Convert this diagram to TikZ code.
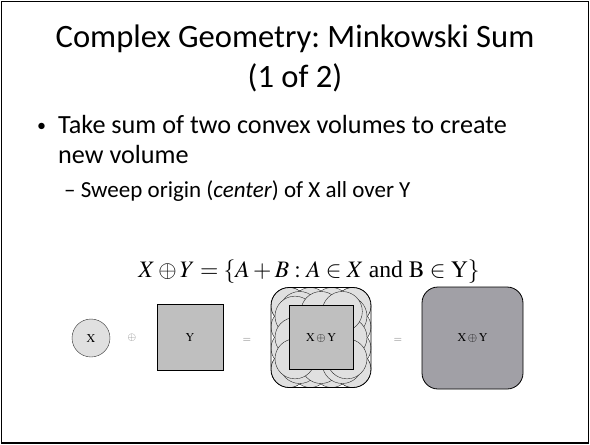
\documentclass[tikz,border=0pt]{standalone}
\usepackage{mathptmx}
\usepackage[no-math]{fontspec}
\setmainfont{Carlito}
\newfontfamily\timesfont{Liberation Serif}
\usetikzlibrary{calc}
\frenchspacing

\begin{document}
\begin{tikzpicture}[x=1pt,y=-1pt,
  slidetext/.style={anchor=base west,inner sep=0pt},
  shapelabel/.style={inner sep=0pt,font=\fontsize{12}{14}\selectfont},
  oplabel/.style={inner sep=0pt,text=black!55,font=\fontsize{11}{13}\selectfont},
  bubble/.style={fill=black!12,draw=black!85}]
  \useasboundingbox (0,0) rectangle (590,445);
  \draw[line width=1.6pt] (1.5,1.5) rectangle (588.5,443);
  % title and bullets
  \node[inner sep=0pt,anchor=base,font=\fontsize{32.6}{38}\selectfont] (title) at (295,47) {Complex Geometry: Minkowski Sum};
  \node[inner sep=0pt,anchor=base,font=\fontsize{32.6}{38}\selectfont] (part) at (295,87) {(1 of 2)};
  \node[slidetext,font=\fontsize{18}{29}\selectfont] (dot) at (37,131) {\textbullet};
  \node[slidetext,font=\fontsize{26.2}{29}\selectfont] (l1) at (58,133) {Take sum of two convex volumes to create};
  \node[slidetext,font=\fontsize{26.2}{29}\selectfont] (l2) at (58,163) {new volume};
  \node[slidetext,font=\fontsize{23}{25}\selectfont] (l3) at (64,197) {-- Sweep origin (\textit{center}) of X all over Y};
  % formula
  \node[inner sep=0pt,anchor=base,font=\fontsize{23.6}{28}\selectfont] (eq) at (309,277)
    {$X \oplus Y = \{A + B : A \in X \mbox{ \timesfont and } \mathrm{B} \in \mathrm{Y}\}$};
  % X
  \filldraw[fill=black!12,draw=black!80] (91,338) circle (19);
  \node[shapelabel] (X) at (91,338) {$\mathrm{X}$};
  \node[oplabel] (op1) at (132,338) {$\oplus$};
  % Y
  \filldraw[fill=black!25,draw=black,thick] (157,304) rectangle (223,370);
  \node[shapelabel] (Y) at (190,337) {$\mathrm{Y}$};
  \node[oplabel] (eq1) at (247,340) {$=$};
  % swept circles
  \coordinate (S) at (321,337.5);
  \begin{scope}
    \clip[rounded corners=18] ($(S)+(-50,-50)$) rectangle ($(S)+(50,50)$);
    \foreach \t in {0,...,3}
      {\draw[bubble] ($(S)+(-32+64*\t/3,-32)$) circle (18);
       \draw[bubble] ($(S)+(-32+64*\t/3,32)$) circle (18);
       \draw[bubble] ($(S)+(-32,-32+64*\t/3)$) circle (18);
       \draw[bubble] ($(S)+(32,-32+64*\t/3)$) circle (18);}
    \foreach \t in {0.5,1.5,2.5}
      {\draw[bubble] ($(S)+(-32+64*\t/3,-26)$) circle (20);
       \draw[bubble] ($(S)+(-32+64*\t/3,26)$) circle (20);
       \draw[bubble] ($(S)+(-26,-32+64*\t/3)$) circle (20);
       \draw[bubble] ($(S)+(26,-32+64*\t/3)$) circle (20);}
  \end{scope}
  \draw[thick,rounded corners=18] ($(S)+(-50,-50)$) rectangle ($(S)+(50,50)$);
  \filldraw[fill=black!25,draw=black,thick] ($(S)+(-32,-32)$) rectangle ($(S)+(32,32)$);
  \node[shapelabel] (XY1) at (S) {$\mathrm{X}\oplus\mathrm{Y}$};
  \node[oplabel] (eq2) at (398,340) {$=$};
  % result
  \filldraw[fill={rgb,255:red,161;green,160;blue,166},draw=black,thick,rounded corners=16] (422,287) rectangle (523,389);
  \node[shapelabel] (XY2) at (472.5,338) {$\mathrm{X}\oplus\mathrm{Y}$};
\end{tikzpicture}
\end{document}
